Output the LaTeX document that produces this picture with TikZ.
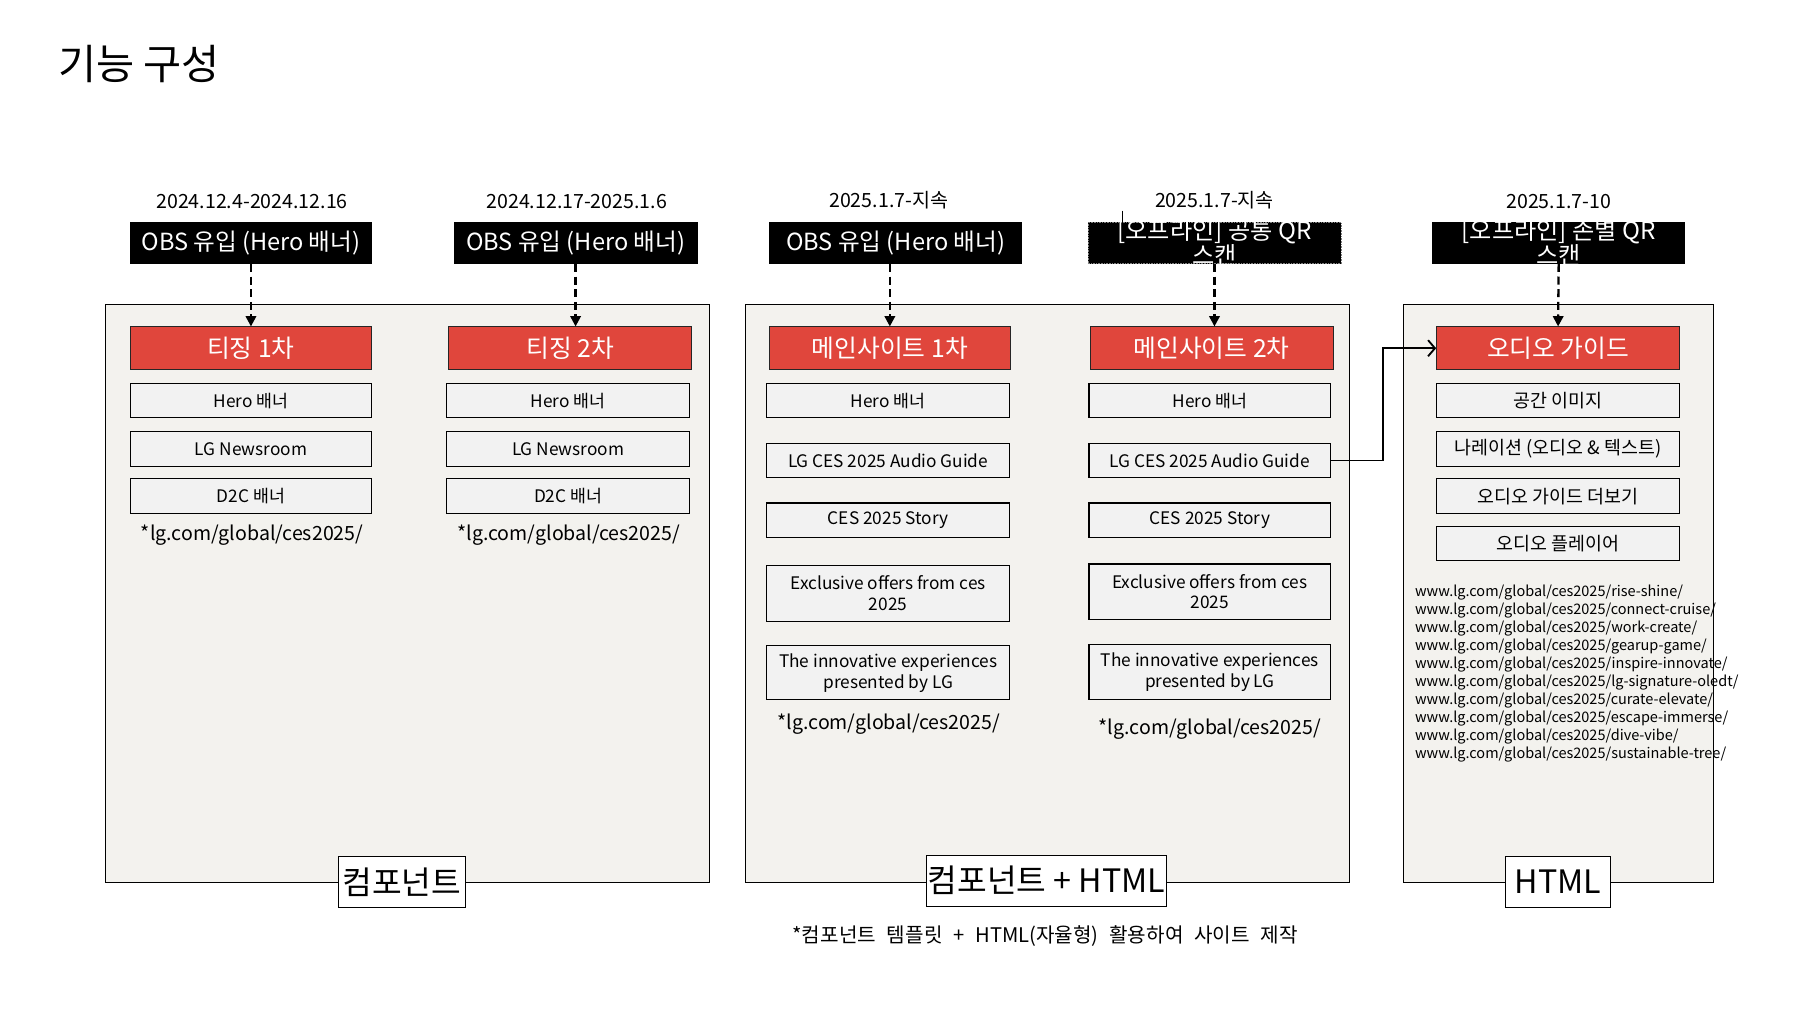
\documentclass[tikz,border=0pt]{standalone}
\usepackage{fontspec}
\setmainfont{Noto Sans CJK KR}
\newfontfamily\notefont[WordSpace=2.4]{Noto Sans CJK KR}
\usetikzlibrary{positioning, arrows.meta}
\definecolor{phasered}{RGB}{224,70,60}
\definecolor{panelgray}{RGB}{243,242,238}
\definecolor{itemgray}{RGB}{242,242,242}
\tikzset{
        >={Triangle[length=9pt, width=9pt]}, % filled heads for the dashed links
        panel/.style={draw, line width=0.8pt, fill=panelgray},
        source/.style={fill=black, text=white, inner sep=0pt, minimum height=36pt,
                font=\fontsize{20.5}{22}\selectfont},
        phase/.style={draw=black!85, line width=0.8pt, fill=phasered, text=white,
                inner sep=0pt, minimum height=37pt, font=\fontsize{21.5}{23}\selectfont},
        item/.style={draw, line width=1pt, fill=itemgray, inner sep=0pt, align=center,
                minimum height=30pt, font=\fontsize{15}{18}\selectfont},
        stamp/.style={font=\fontsize{17}{20}\selectfont},
        tag/.style={draw, line width=0.8pt, fill=white, inner xsep=0pt, minimum height=44pt,
                font=\fontsize{28}{30}\selectfont},
        link/.style={->, line width=2pt, dash pattern=on 7pt off 4pt}
        }
\begin{document}
\begin{tikzpicture}[x=1pt, y=-1pt]
        \useasboundingbox (0,0) rectangle (1568,880);
        \node[anchor=west, font=\fontsize{36}{40}\selectfont] (title) at (47,56) {기능 구성};

        % panels
        \node[panel, anchor=north west, minimum width=525pt, minimum height=502pt] (p1) at (91,264) {};
        \node[panel, anchor=north west, minimum width=525pt, minimum height=502pt] (p2) at (647,264) {};
        \node[panel, anchor=north west, minimum width=269pt, minimum height=502pt] (p3) at (1219,264) {};

        % periods
        \node[stamp] (d1) at (219,175) {2024.12.4-2024.12.16};
        \node[stamp] (d2) at (501,175) {2024.12.17-2025.1.6};
        \node[stamp] (d3) at (772,174) {2025.1.7-지속};
        \node[stamp] (d4) at (1055,174) {2025.1.7-지속};
        \node[stamp] (d5) at (1354,175) {2025.1.7-10};

        % entry points
        \node[source, minimum width=210pt] (obs1) at (218,211) {OBS 유입 (Hero 배너)};
        \node[source, minimum width=212pt] (obs2) at (500,211) {OBS 유입 (Hero 배너)};
        \node[source, minimum width=220pt] (obs3) at (778,211) {OBS 유입 (Hero 배너)};
        \node[source, minimum width=220pt, draw=gray, densely dotted,
              label={[text=white, align=center, font=\fontsize{21}{21}\selectfont]center:{[오프라인] 공통 QR\\스캔}}] (qr1) at (1055,211) {};
        \node[source, minimum width=220pt,
              label={[text=white, align=center, font=\fontsize{21}{21}\selectfont]center:{[오프라인] 존별 QR\\스캔}}] (qr2) at (1354,211) {};
        \draw[line width=0.5pt] (975,183) -- (975,206);

        % phases
        \node[phase, minimum width=210pt] (t1) at (218,302.5) {티징 1차};
        \node[phase, minimum width=211pt] (t2) at (495.5,302.5) {티징 2차};
        \node[phase, minimum width=210pt] (m1) at (773,302.5) {메인사이트 1차};
        \node[phase, minimum width=211pt] (m2) at (1052.5,302.5) {메인사이트 2차};
        \node[phase, minimum width=211pt] (au) at (1353.5,302.5) {오디오 가이드};

        % teaser components
        \node[item, minimum width=210pt] (t1a) at (218,348) {Hero 배너};
        \node[item, minimum width=210pt] (t1b) at (218,390) {LG Newsroom};
        \node[item, minimum width=210pt] (t1c) at (218,431) {D2C 배너};
        \node[stamp] (t1u) at (219,465) {*lg.com/global/ces2025/};
        \node[item, minimum width=211pt] (t2a) at (493.5,348) {Hero 배너};
        \node[item, minimum width=211pt] (t2b) at (493.5,390) {LG Newsroom};
        \node[item, minimum width=211pt] (t2c) at (493.5,431) {D2C 배너};
        \node[stamp] (t2u) at (494,465) {*lg.com/global/ces2025/};

        % main site components
        \node[item, minimum width=211pt] (m1a) at (771.5,348) {Hero 배너};
        \node[item, minimum width=211pt] (m1b) at (771.5,400) {LG CES 2025 Audio Guide};
        \node[item, minimum width=211pt] (m1c) at (771.5,452) {CES 2025 Story};
        \node[item, minimum width=211pt, minimum height=49pt] (m1d) at (771.5,515.5) {Exclusive offers from ces\\2025};
        \node[item, minimum width=211pt, minimum height=47pt] (m1e) at (771.5,584.5) {The innovative experiences\\presented by LG};
        \node[stamp] (m1u) at (772,629) {*lg.com/global/ces2025/};
        \node[item, minimum width=210pt] (m2a) at (1051,348) {Hero 배너};
        \node[item, minimum width=210pt] (m2b) at (1051,400) {LG CES 2025 Audio Guide};
        \node[item, minimum width=210pt] (m2c) at (1051,452) {CES 2025 Story};
        \node[item, minimum width=210pt, minimum height=48pt] (m2d) at (1051,514) {Exclusive offers from ces\\2025};
        \node[item, minimum width=210pt, minimum height=48pt] (m2e) at (1051,584) {The innovative experiences\\presented by LG};
        \node[stamp] (m2u) at (1051,633) {*lg.com/global/ces2025/};

        % audio guide components
        \node[item, minimum width=211pt, font=\fontsize{16}{18}\selectfont] (aua) at (1353.5,348) {공간 이미지};
        \node[item, minimum width=211pt, font=\fontsize{16}{18}\selectfont] (aub) at (1353.5,390) {나레이션 (오디오 \& 텍스트)};
        \node[item, minimum width=211pt, font=\fontsize{16}{18}\selectfont] (auc) at (1353.5,431) {오디오 가이드 더보기};
        \node[item, minimum width=211pt, font=\fontsize{16}{18}\selectfont] (aud) at (1353.5,472) {오디오 플레이어};
        \node[anchor=north west, align=left, inner sep=0pt, font=\fontsize{12.6}{15.67}\selectfont] (urls) at (1229,508)
              {www.lg.com/global/ces2025/rise-shine/\\
               www.lg.com/global/ces2025/connect-cruise/\\
               www.lg.com/global/ces2025/work-create/\\
               www.lg.com/global/ces2025/gearup-game/\\
               www.lg.com/global/ces2025/inspire-innovate/\\
               www.lg.com/global/ces2025/lg-signature-oledt/\\
               www.lg.com/global/ces2025/curate-elevate/\\
               www.lg.com/global/ces2025/escape-immerse/\\
               www.lg.com/global/ces2025/dive-vibe/\\
               www.lg.com/global/ces2025/sustainable-tree/};

        % build types
        \node[tag, minimum width=110pt] (k1) at (349,766) {컴포넌트};
        \node[tag, minimum width=208pt] (k2) at (909,765) {컴포넌트 + HTML};
        \node[tag, minimum width=91pt] (k3) at (1353.5,766) {HTML};
        \node[font=\notefont\fontsize{17.5}{20}\selectfont] (note) at (908,813) {*컴포넌트 템플릿 + HTML(자율형) 활용하여 사이트 제작};

        % links
        \draw[link] (obs1.south) -- (obs1.south |- t1.north);
        \draw[link] (obs2.south) -- (obs2.south |- t2.north);
        \draw[link] (m1.north |- obs3.south) -- (m1.north);
        \draw[link] (qr1.south) -- (qr1.south |- m2.north);
        \draw[link] (qr2.south) -- (au.north);
        \draw[-{Straight Barb[length=6pt, width=14pt]}, line width=1.6pt] (m2b.east) -- ++(45,0) |- (au.west);
\end{tikzpicture}
\end{document}
